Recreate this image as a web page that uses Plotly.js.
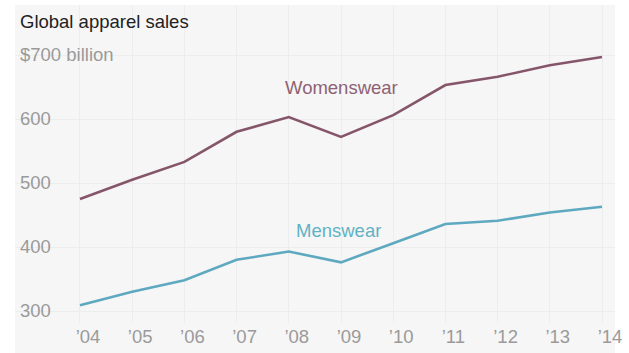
<!DOCTYPE html>
<html><head><meta charset="utf-8">
<script src="https://cdn.plot.ly/plotly-3.0.1.min.js"></script>
<style>html,body{margin:0;padding:0;background:#fff;}#c{width:629px;height:353px;}</style>
</head><body><div id="c"></div>
<script>
const years = [2004,2005,2006,2007,2008,2009,2010,2011,2012,2013,2014];
const yearLabels = ["’04","’05","’06","’07","’08","’09","’10","’11","’12","’13","’14"];
const womenswear = [475,505,533,580,603,572,606,653,666,684,697];
const menswear = [309,330,348,380,393,376,406,436,441,454,463];
const yTicks = [300,400,500,600,700];
const yTickLabels = ["300","400","500","600","$700 billion"];

const W = 629, H = 353;
const m = {l:15, r:14, t:5, b:30};
const pw = W - m.l - m.r, ph = H - m.t - m.b;
const bg = {x0: 15, x1: 615, y0: 5, y1: 353};
const xRange = [2002.755, 2014.249];
const yRange = [281.25, 778.125];

const font = "Liberation Sans, Arial, sans-serif";
const fs = 18.5;
const traces = [
  {x: years, y: womenswear, type:'scatter', mode:'lines', line:{color:'#85566a', width:2.6}, hoverinfo:'skip'},
  {x: years, y: menswear, type:'scatter', mode:'lines', line:{color:'#5ea9c0', width:2.6}, hoverinfo:'skip'},
  {x: years, y: menswear, type:'scatter', mode:'lines', xaxis:'x2', yaxis:'y2', line:{color:'rgba(0,0,0,0)', width:0}, hoverinfo:'skip'}
];
const layout = {
  width: W, height: H,
  margin: m,
  paper_bgcolor: '#ffffff',
  plot_bgcolor: 'rgba(0,0,0,0)',
  showlegend: false,
  font: {family: font, size: fs, color: '#9a9a9a'},
  title: {text: 'Global apparel sales', font:{family: font, size: fs, color:'#222'},
          xref:'container', yref:'container', x: 20/W, xanchor:'left', y: 1 - 22/H, yanchor:'middle'},
  xaxis: {range: xRange, tickvals: years, ticktext: yearLabels, showgrid:true,
          gridcolor:'#ededed', gridwidth:1, zeroline:false, showline:false, ticks:'',
          ticklabelshift: 8, tickfont:{family: font, size:fs, color:'#9a9a9a'}},
  yaxis: {range: yRange, tickvals: yTicks, showticklabels:false,
          showgrid:true, gridcolor:'#ededed', gridwidth:1, zeroline:false, showline:false, ticks:''},
  xaxis2: {range: xRange, overlaying:'x', anchor:'y2', showticklabels:false, showgrid:false, zeroline:false, showline:false, ticks:''},
  yaxis2: {range: yRange, overlaying:'y', anchor:'x2', side:'left', tickvals: yTicks, ticktext: yTickLabels,
          ticklabelposition:'inside', ticklabelstandoff: 2, showgrid:false, zeroline:false, showline:false, ticks:'',
          tickfont:{family: font, size:fs, color:'#9a9a9a'}},
  shapes: [{type:'rect', xref:'paper', yref:'paper', layer:'below', line:{width:0}, fillcolor:'#f6f6f6',
            x0:(bg.x0-m.l)/pw, x1:(bg.x1-m.l)/pw, y0:1-(bg.y1-m.t)/ph, y1:1-(bg.y0-m.t)/ph}],
  annotations: [
    {text:'Womenswear', x: 2009, y: 650, xref:'x', yref:'y', showarrow:false, xanchor:'center', yanchor:'middle',
     xshift: 0, font:{family: font, size:fs, color:'#8e6274'}},
    {text:'Menswear', x: 2009, y: 427, xref:'x', yref:'y', showarrow:false, xanchor:'center', yanchor:'middle',
     xshift: -3, yshift: -1, font:{family: font, size:fs, color:'#5fb3c4'}}
  ]
};
Plotly.newPlot('c', traces, layout, {displayModeBar:false, staticPlot:true});
</script></body></html>
